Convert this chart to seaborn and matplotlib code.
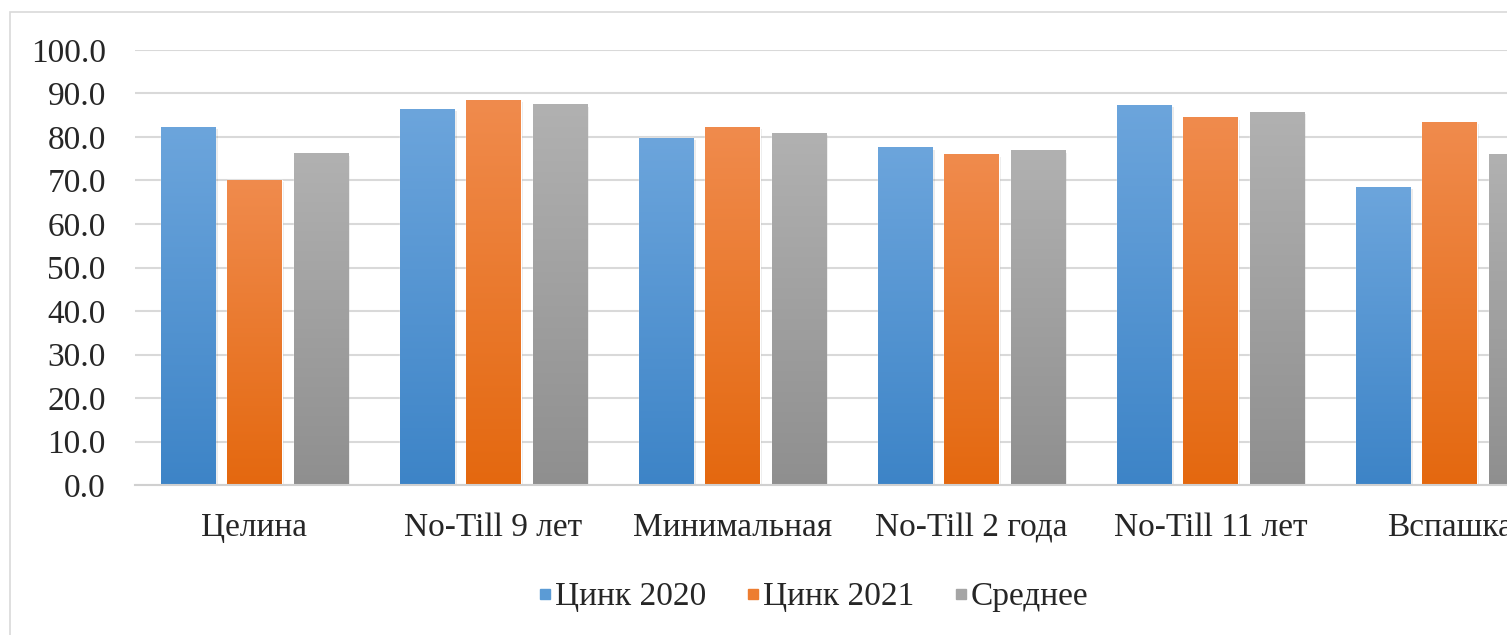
import matplotlib.pyplot as plt
import numpy as np
import pandas as pd
import seaborn as sns
from matplotlib.colors import LinearSegmentedColormap
from matplotlib.patches import Rectangle
from matplotlib.lines import Line2D

categories = ['Целина', 'No-Till 9 лет', 'Минимальная', 'No-Till 2 года', 'No-Till 11 лет', 'Вспашка']
zinc_2020 = [82.2, 86.4, 79.7, 77.5, 87.2, 68.5]
zinc_2021 = [70.1, 88.5, 82.2, 75.9, 84.4, 83.3]
mean_vals = [76.1, 87.4, 80.8, 76.8, 85.7, 75.9]
series_names = ['Цинк 2020', 'Цинк 2021', 'Среднее']
yticks = np.arange(0, 101, 10)

colors = ['#5B9BD5', '#ED7D31', '#A5A5A5']
# gradient ends (bottom dark -> top light), Excel-style fill
grad_colors = [('#3D84C7', '#6CA5DC'), ('#E4680F', '#F08B4D'), ('#8F8F8F', '#B1B1B1')]

df = pd.DataFrame({
    'cat': categories * 3,
    'val': zinc_2020 + zinc_2021 + mean_vals,
    'series': [s for s in series_names for _ in categories],
})

sns.set_style('white')
plt.rcParams['font.family'] = ['Liberation Serif', 'DejaVu Serif']

W, H = 1507, 635
fig = plt.figure(figsize=(W / 100, H / 100), dpi=100)
ax = fig.add_axes([135 / W, 150 / H, 1434 / W, 435 / H])

sns.barplot(data=df, x='cat', y='val', hue='series', palette=colors,
            width=0.83, gap=0.18, saturation=1, legend=False, ax=ax)

# gradient fill on each bar
grad = np.linspace(0, 1, 256).reshape(-1, 1)
bars = [p for p in ax.patches if isinstance(p, Rectangle)]
for i, p in enumerate(bars):
    s = i // len(categories)
    cmap = LinearSegmentedColormap.from_list('g%d' % s, grad_colors[s])
    x0, w, h = p.get_x(), p.get_width(), p.get_height()
    # soft shadow
    ax.add_patch(Rectangle((x0 + 0.01, 0), w, h - 0.4, fc='#000000', alpha=0.08,
                           ec='none', zorder=1.5))
    ax.imshow(grad, extent=[x0, x0 + w, 0, h], origin='lower', aspect='auto',
              cmap=cmap, zorder=2.5, interpolation='bicubic')
    p.set_zorder(2)

ax.set_xlim(-0.5, len(categories) - 0.5)
ax.set_ylim(0, 100)
ax.set_yticks(yticks)
ax.set_yticklabels(['%.1f' % v for v in yticks])
ax.yaxis.grid(True, color='#D9D9D9', lw=1.5)
ax.set_axisbelow(True)
for sp in ['top', 'right', 'left']:
    ax.spines[sp].set_visible(False)
ax.spines['bottom'].set_color('#D0D0D0')
ax.spines['bottom'].set_linewidth(1.5)
ax.tick_params(axis='y', length=0, pad=21, labelsize=24)
ax.tick_params(axis='x', length=0, pad=20, labelsize=24)
ax.set_xlabel('')
ax.set_ylabel('')

handles = [Line2D([], [], ls='none', marker='s', markersize=7, color=c) for c in colors]
fig.legend(handles, series_names, loc='center', bbox_to_anchor=(810 / W, 1 - 597 / H),
           ncol=3, frameon=False, fontsize=24, handletextpad=-0.1, columnspacing=1.0,
           handlelength=0.8)

# chart area border
fig.patches.append(Rectangle((10 / W, -0.1), 1.2, 1 - 12 / H + 0.1, transform=fig.transFigure,
                             fill=False, ec='#D9D9D9', lw=1.2))

plt.savefig('out.png', dpi=100)
